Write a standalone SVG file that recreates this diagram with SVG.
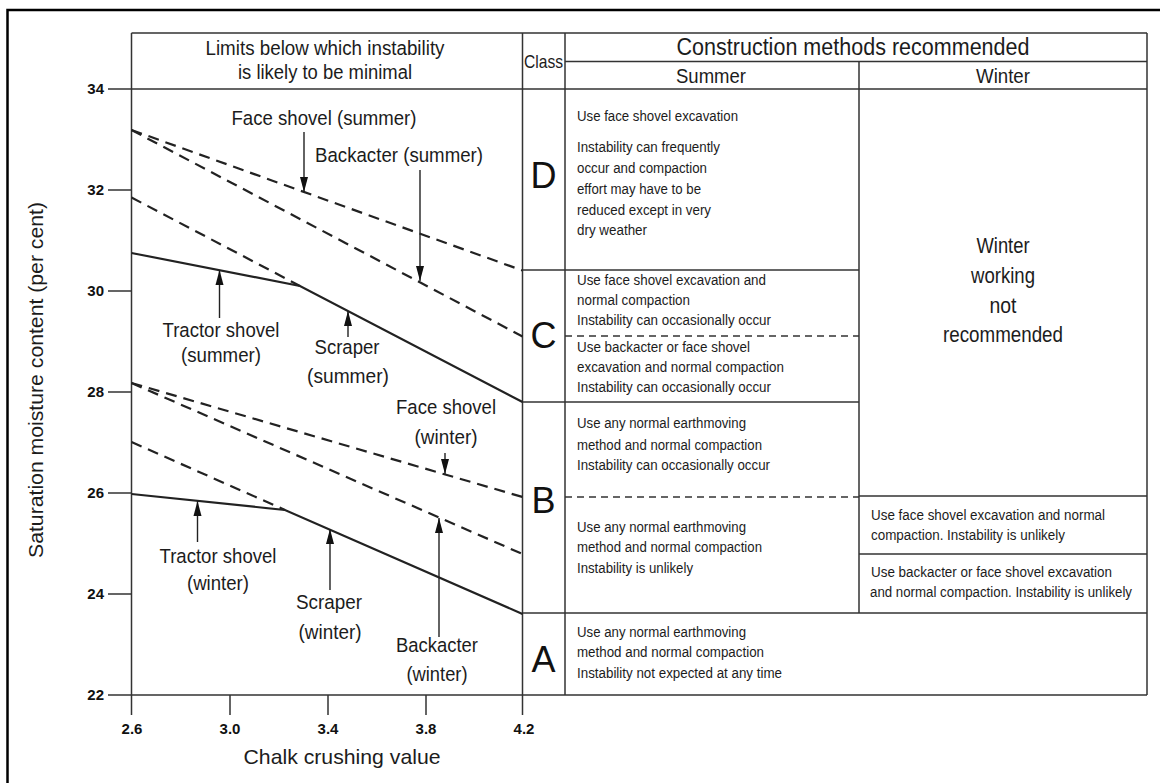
<svg xmlns="http://www.w3.org/2000/svg" width="1160" height="783" viewBox="0 0 1160 783">
<style>
text{font-family:"Liberation Sans",Arial,sans-serif;fill:#1c1c1c}
.grid{stroke:#333;stroke-width:1.5;fill:none}
.dash{stroke:#222;stroke-width:2.2;fill:none;stroke-dasharray:11 7}
.solid{stroke:#222;stroke-width:2.2;fill:none}
.tdash{stroke:#333;stroke-width:1.5;fill:none;stroke-dasharray:7 5}
.arrow{stroke:#222;stroke-width:1.4;fill:none;marker-end:url(#ah)}
.lbl{font-size:20.5px;text-anchor:middle}
.tick{font-size:15px;font-weight:bold;fill:#111}
.ytick{text-anchor:end}
.xtick{text-anchor:middle}
.cell{font-size:15.5px}
.cls{font-size:36px;text-anchor:middle;fill:#111}
.hdr{font-size:20px;text-anchor:middle}
.big{font-size:22px;text-anchor:middle}
</style>
<defs>
<marker id="ah" markerUnits="userSpaceOnUse" markerWidth="16" markerHeight="9" refX="15" refY="4.5" orient="auto" viewBox="0 0 16 9">
<path d="M0,0.5 L15,4.5 L0,8.5 Z" fill="#111"/>
</marker>
</defs>
<rect width="1160" height="783" fill="#fff"/>
<g id="frame">
<path d="M7.5,783 V10 H1160" fill="none" stroke="#000" stroke-width="2.5"/>
</g>
<g id="axes">
<path class="grid" d="M131.5,33 V715 M522.5,33 V715 M131.5,33 H1147 M108,89 H1147 M108,695 H1147"/>
<path class="grid" d="M108,190 H131.5 M108,291 H131.5 M108,392 H131.5 M108,493 H131.5 M108,594 H131.5 M230,695 V715 M328,695 V715 M426,695 V715"/>
<text class="tick ytick" x="104" y="94">34</text>
<text class="tick ytick" x="104" y="195">32</text>
<text class="tick ytick" x="104" y="296">30</text>
<text class="tick ytick" x="104" y="397">28</text>
<text class="tick ytick" x="104" y="498">26</text>
<text class="tick ytick" x="104" y="599">24</text>
<text class="tick ytick" x="104" y="700">22</text>
<text class="tick xtick" x="132" y="734">2.6</text>
<text class="tick xtick" x="230" y="734">3.0</text>
<text class="tick xtick" x="328" y="734">3.4</text>
<text class="tick xtick" x="426" y="734">3.8</text>
<text class="tick xtick" x="524" y="734">4.2</text>
<text x="342" y="764" font-size="21" text-anchor="middle" textLength="197" lengthAdjust="spacingAndGlyphs">Chalk crushing value</text>
<text transform="translate(43,380) rotate(-90)" font-size="21" text-anchor="middle" textLength="356" lengthAdjust="spacingAndGlyphs">Saturation moisture content (per cent)</text>
</g>
<g id="header-limits">
<text class="hdr" x="325" y="55" textLength="239" lengthAdjust="spacingAndGlyphs">Limits below which instability</text>
<text class="hdr" x="325" y="79" textLength="174" lengthAdjust="spacingAndGlyphs">is likely to be minimal</text>
</g>
<g id="header-class">
<path class="grid" d="M565,33 V695"/>
<text x="543.5" y="68" font-size="19" text-anchor="middle" textLength="39" lengthAdjust="spacingAndGlyphs">Class</text>
</g>
<g id="header-methods">
<path class="grid" d="M565,61.5 H1147 M1147,33 V695 M859,61.5 V613"/>
<text x="853" y="55" font-size="23" text-anchor="middle" textLength="353" lengthAdjust="spacingAndGlyphs">Construction methods recommended</text>
<text class="hdr" x="711" y="83" font-size="21" textLength="70" lengthAdjust="spacingAndGlyphs">Summer</text>
<text class="hdr" x="1003" y="83" font-size="21" textLength="54" lengthAdjust="spacingAndGlyphs">Winter</text>
</g>
<g id="class-D">
<text class="cls" x="543.5" y="188">D</text>
<text class="cell" x="577" y="121" textLength="161" lengthAdjust="spacingAndGlyphs">Use face shovel excavation</text>
<text class="cell" x="577" y="152" textLength="143" lengthAdjust="spacingAndGlyphs">Instability can frequently</text>
<text class="cell" x="577" y="173" textLength="130" lengthAdjust="spacingAndGlyphs">occur and compaction</text>
<text class="cell" x="577" y="194" textLength="124" lengthAdjust="spacingAndGlyphs">effort may have to be</text>
<text class="cell" x="577" y="215" textLength="134" lengthAdjust="spacingAndGlyphs">reduced except in very</text>
<text class="cell" x="577" y="235" textLength="70" lengthAdjust="spacingAndGlyphs">dry weather</text>
</g>
<g id="class-C">
<path class="grid" d="M522.5,270 H859"/>
<path class="tdash" d="M565,336 H859"/>
<text class="cls" x="543.5" y="348">C</text>
<text class="cell" x="577" y="285" textLength="189" lengthAdjust="spacingAndGlyphs">Use face shovel excavation and</text>
<text class="cell" x="577" y="305" textLength="113" lengthAdjust="spacingAndGlyphs">normal compaction</text>
<text class="cell" x="577" y="325" textLength="194" lengthAdjust="spacingAndGlyphs">Instability can occasionally occur</text>
<text class="cell" x="577" y="352" textLength="173" lengthAdjust="spacingAndGlyphs">Use backacter or face shovel</text>
<text class="cell" x="577" y="372" textLength="207" lengthAdjust="spacingAndGlyphs">excavation and normal compaction</text>
<text class="cell" x="577" y="392" textLength="194" lengthAdjust="spacingAndGlyphs">Instability can occasionally occur</text>
</g>
<g id="class-B">
<path class="grid" d="M522.5,402 H859"/>
<path class="tdash" d="M565,497 H859"/>
<text class="cls" x="543.5" y="513">B</text>
<text class="cell" x="577" y="428" textLength="169" lengthAdjust="spacingAndGlyphs">Use any normal earthmoving</text>
<text class="cell" x="577" y="450" textLength="185" lengthAdjust="spacingAndGlyphs">method and normal compaction</text>
<text class="cell" x="577" y="470" textLength="193" lengthAdjust="spacingAndGlyphs">Instability can occasionally occur</text>
<text class="cell" x="577" y="532" textLength="169" lengthAdjust="spacingAndGlyphs">Use any normal earthmoving</text>
<text class="cell" x="577" y="552" textLength="185" lengthAdjust="spacingAndGlyphs">method and normal compaction</text>
<text class="cell" x="577" y="573" textLength="116" lengthAdjust="spacingAndGlyphs">Instability is unlikely</text>
</g>
<g id="winter-not-recommended">
<text class="big" x="1003" y="253" textLength="53" lengthAdjust="spacingAndGlyphs">Winter</text>
<text class="big" x="1003" y="283" textLength="64" lengthAdjust="spacingAndGlyphs">working</text>
<text class="big" x="1003" y="313" textLength="27" lengthAdjust="spacingAndGlyphs">not</text>
<text class="big" x="1003" y="342" textLength="120" lengthAdjust="spacingAndGlyphs">recommended</text>
</g>
<g id="winter-B">
<path class="grid" d="M859,496 H1147 M859,554 H1147"/>
<text class="cell" x="871" y="520" textLength="234" lengthAdjust="spacingAndGlyphs">Use face shovel excavation and normal</text>
<text class="cell" x="871" y="540" textLength="194" lengthAdjust="spacingAndGlyphs">compaction. Instability is unlikely</text>
<text class="cell" x="871" y="577" textLength="241" lengthAdjust="spacingAndGlyphs">Use backacter or face shovel excavation</text>
<text class="cell" x="870" y="597" font-size="12.5" textLength="262" lengthAdjust="spacingAndGlyphs">and normal compaction. Instability is unlikely</text>
</g>
<g id="class-A">
<path class="grid" d="M522.5,613 H1147"/>
<text class="cls" x="543.5" y="672">A</text>
<text class="cell" x="577" y="637" textLength="169" lengthAdjust="spacingAndGlyphs">Use any normal earthmoving</text>
<text class="cell" x="577" y="657" textLength="187" lengthAdjust="spacingAndGlyphs">method and normal compaction</text>
<text class="cell" x="577" y="678" textLength="205" lengthAdjust="spacingAndGlyphs">Instability not expected at any time</text>
</g>
<g id="curves">
<path class="dash" d="M131.5,130 L522.5,270.5"/>
<path class="dash" d="M131.5,130 L522.5,336.5"/>
<path class="dash" d="M131.5,197.5 L300,286"/>
<path class="solid" d="M131.5,253 L300,286 L522.5,402"/>
<path class="dash" d="M131.5,383 L522.5,497"/>
<path class="dash" d="M131.5,383 L522.5,554"/>
<path class="dash" d="M131.5,442 L285,510"/>
<path class="solid" d="M131.5,494 L285,510 L522.5,614"/>
</g>
<g id="labels">
<text class="lbl" x="324" y="125" textLength="185" lengthAdjust="spacingAndGlyphs">Face shovel (summer)</text>
<text class="lbl" x="399" y="162" textLength="168" lengthAdjust="spacingAndGlyphs">Backacter (summer)</text>
<text class="lbl" x="221" y="337" textLength="117" lengthAdjust="spacingAndGlyphs">Tractor shovel</text>
<text class="lbl" x="221" y="362" textLength="80" lengthAdjust="spacingAndGlyphs">(summer)</text>
<text class="lbl" x="347" y="354" textLength="65" lengthAdjust="spacingAndGlyphs">Scraper</text>
<text class="lbl" x="348" y="383" textLength="82" lengthAdjust="spacingAndGlyphs">(summer)</text>
<text class="lbl" x="446" y="414" textLength="100" lengthAdjust="spacingAndGlyphs">Face shovel</text>
<text class="lbl" x="446" y="444" textLength="63" lengthAdjust="spacingAndGlyphs">(winter)</text>
<text class="lbl" x="218" y="563" textLength="117" lengthAdjust="spacingAndGlyphs">Tractor shovel</text>
<text class="lbl" x="218" y="590" textLength="62" lengthAdjust="spacingAndGlyphs">(winter)</text>
<text class="lbl" x="329" y="609" textLength="66" lengthAdjust="spacingAndGlyphs">Scraper</text>
<text class="lbl" x="330" y="639" textLength="63" lengthAdjust="spacingAndGlyphs">(winter)</text>
<text class="lbl" x="437" y="652" textLength="82" lengthAdjust="spacingAndGlyphs">Backacter</text>
<text class="lbl" x="437" y="681" textLength="61" lengthAdjust="spacingAndGlyphs">(winter)</text>
</g>
<g id="connectors">
<line class="arrow" x1="304" y1="132" x2="304" y2="192"/>
<line class="arrow" x1="420" y1="170" x2="420" y2="281"/>
<line class="arrow" x1="219.5" y1="318" x2="219.5" y2="270"/>
<line class="arrow" x1="348" y1="337" x2="348" y2="311"/>
<line class="arrow" x1="445" y1="453" x2="445" y2="474"/>
<line class="arrow" x1="197.5" y1="542" x2="197.5" y2="501"/>
<line class="arrow" x1="330" y1="590" x2="330" y2="529"/>
<line class="arrow" x1="439" y1="637" x2="439" y2="518"/>
</g>
</svg>
